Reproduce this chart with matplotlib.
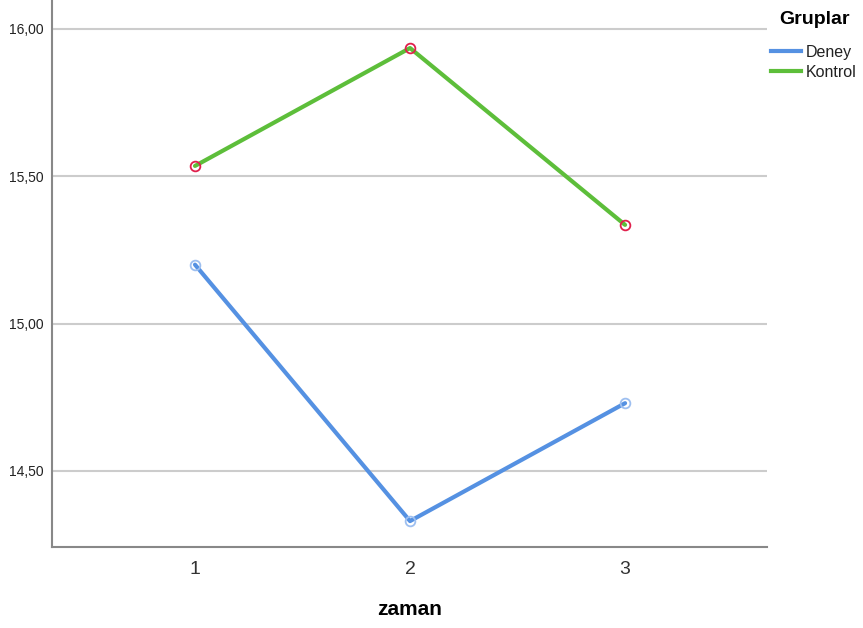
import matplotlib
matplotlib.use("Agg")
import matplotlib.pyplot as plt
from matplotlib.lines import Line2D

plt.rcParams['font.family'] = ['Liberation Sans', 'DejaVu Sans']

zaman = [1, 2, 3]
deney = [15.20, 14.33, 14.73]
kontrol = [15.535, 15.935, 15.335]
yticks = [14.5, 15.0, 15.5, 16.0]
ytick_labels = ["14,50", "15,00", "15,50", "16,00"]

fig = plt.figure(figsize=(8.63, 6.28), dpi=100)
ax = fig.add_axes([52/863, 1-547/628, (767-52)/863, 547/628])

blue = '#5591E2'
green = '#5DBE3A'

ax.plot(zaman, deney, color=blue, lw=3.0, zorder=3, solid_capstyle='round')
ax.plot(zaman, kontrol, color=green, lw=3.0, zorder=3, solid_capstyle='round')
ax.plot(zaman, deney, ls='none', marker='o', ms=7, mfc='none', mec='#9DBFF0', mew=1.3, zorder=4)
ax.plot(zaman, kontrol, ls='none', marker='o', ms=7, mfc='none', mec='#E0204C', mew=1.3, zorder=4)

ax.set_xlim(0.335, 3.66)
ax.set_ylim(14.242, 16.098)
ax.set_yticks(yticks)
ax.set_yticklabels(ytick_labels, fontsize=10, color='#222222')
ax.set_xticks(zaman)
ax.set_xticklabels([str(z) for z in zaman], fontsize=14, color='#333333')
ax.tick_params(axis='y', length=0, pad=6)
ax.tick_params(axis='x', length=0, pad=10)
ax.grid(axis='y', color='#CCCCCC', lw=1.5)
ax.set_axisbelow(True)
for s in ['top', 'right']:
    ax.spines[s].set_visible(False)
for s in ['left', 'bottom']:
    ax.spines[s].set_color('#888888')
    ax.spines[s].set_linewidth(1.5)

ax.set_xlabel('zaman', fontsize=15, fontweight='bold', labelpad=16)

fig.text(779/863, 1-20/628, 'Gruplar', fontsize=14, fontweight='bold', va='center', ha='left')
handles = [Line2D([], [], color=blue, lw=3.0), Line2D([], [], color=green, lw=3.0)]
leg = fig.legend(handles, ['Deney', 'Kontrol'], loc='upper left', bbox_to_anchor=(771/863, 1-45/628),
                 frameon=False, fontsize=11.5, handlelength=1.85, handletextpad=0.35,
                 labelspacing=0.3, borderaxespad=0, borderpad=0)
for t in leg.get_texts():
    t.set_color('#222222')

fig.savefig('out.png', dpi=100)
